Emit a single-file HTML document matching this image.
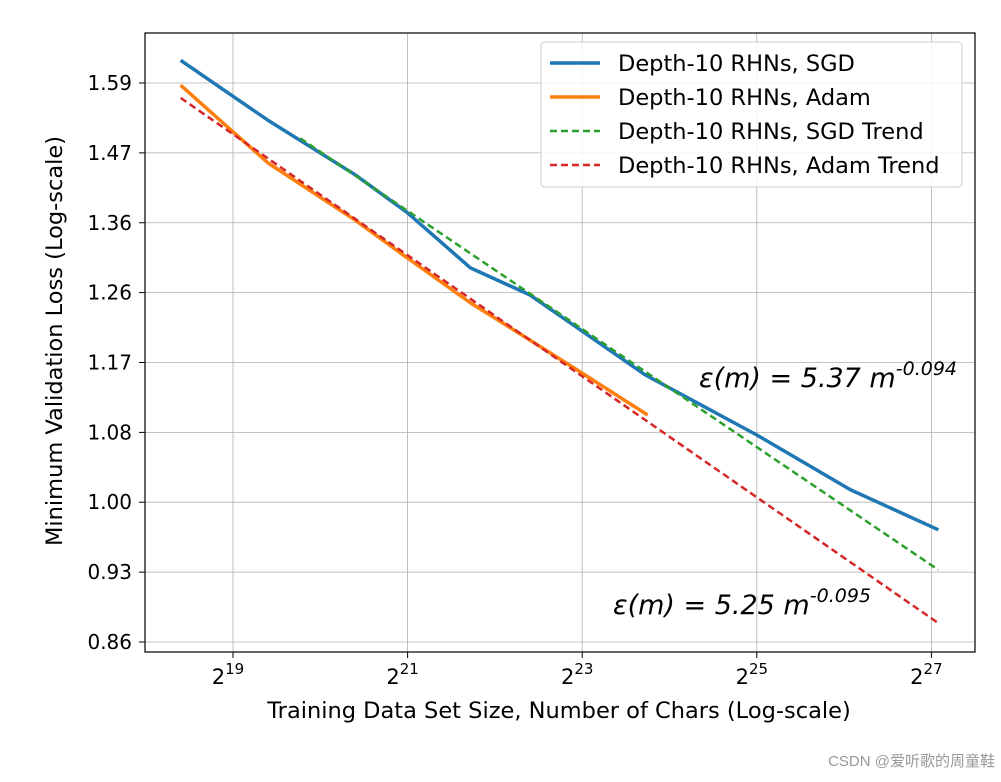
<!DOCTYPE html>
<html><head><meta charset="utf-8"><style>
body{margin:0;background:#fff;}
svg text{font-family:"DejaVu Sans","Liberation Sans",sans-serif;}
</style></head><body>
<svg width="1001" height="777" viewBox="0 0 1001 777" xmlns="http://www.w3.org/2000/svg" id="chart">
<rect x="0" y="0" width="1001" height="777" fill="#fff"/>
<g id="grid"></g>
<g id="series"></g>
<rect x="145" y="33" width="830" height="619" fill="none" stroke="#000" stroke-width="1.2"/>
<g id="axes"></g>
<text x="828" y="387" font-size="27" font-style="italic" text-anchor="middle">ε(m) = 5.37 m<tspan dy="-12" font-size="19">-0.094</tspan></text>
<text x="742" y="614" font-size="27" font-style="italic" text-anchor="middle">ε(m) = 5.25 m<tspan dy="-12" font-size="19">-0.095</tspan></text>
<text x="559" y="718" font-size="22.5" text-anchor="middle">Training Data Set Size, Number of Chars (Log-scale)</text>
<text transform="translate(62,341) rotate(-90)" font-size="22.5" text-anchor="middle">Minimum Validation Loss (Log-scale)</text>
<g>
<rect x="541" y="42" width="421" height="145" rx="4" fill="#fff" fill-opacity="0.85" stroke="#ccc"/>
<line x1="550" y1="63" x2="600" y2="63" stroke="#1f77b4" stroke-width="3.5"/>
<text x="618" y="71" font-size="22.5">Depth-10 RHNs, SGD</text>
<line x1="550" y1="97" x2="600" y2="97" stroke="#ff7f0e" stroke-width="3.5"/>
<text x="618" y="105" font-size="22.5">Depth-10 RHNs, Adam</text>
<line x1="550" y1="131" x2="600" y2="131" stroke="#2ca02c" stroke-width="2.5" stroke-dasharray="7,4"/>
<text x="618" y="139" font-size="22.5">Depth-10 RHNs, SGD Trend</text>
<line x1="550" y1="165" x2="600" y2="165" stroke="#d62728" stroke-width="2.5" stroke-dasharray="7,4"/>
<text x="618" y="173" font-size="22.5">Depth-10 RHNs, Adam Trend</text>
</g>
<text x="995" y="766" font-size="15" fill="#999" text-anchor="end" style="font-family:'Liberation Sans','Noto Sans CJK SC',sans-serif">CSDN @爱听歌的周童鞋</text>
</svg>
<script>
const xTickExps=[19,21,23,25,27];
const yTickValues=[0.8600,0.9287,1.0030,1.0831,1.1697,1.2632,1.3641,1.4731,1.5909];
const yTickLabels=["0.86","0.93","1.00","1.08","1.17","1.26","1.36","1.47","1.59"];
const sgdX=[18.40,19.40,20.40,21.0,21.72,22.40,22.86,23.72,25.0,26.07,27.08];
const sgdY=[1.631,1.527,1.438,1.379,1.298,1.260,1.222,1.154,1.080,1.017,0.973];
const adamX=[18.40,19.40,20.40,21.0,21.72,22.40,22.86,23.75];
const adamY=[1.587,1.457,1.368,1.312,1.249,1.199,1.166,1.104];
const sgdTrendX=[19.77,27.08];
const sgdTrendY=[1.497,0.931];
const adamTrendX=[18.40,27.08];
const adamTrendY=[1.565,0.878];
const NS="http://www.w3.org/2000/svg";
function xs(e){return 233+(e-19)*87.3;}
function ys(v){return 642-(Math.log(v)-Math.log(0.86))*908.8;}
const grid=document.getElementById('grid'),axes=document.getElementById('axes'),ser=document.getElementById('series');
function mk(t,a,p){const e=document.createElementNS(NS,t);for(const k in a)e.setAttribute(k,a[k]);p.appendChild(e);return e;}
xTickExps.forEach(e=>{const x=xs(e);
 const g=mk('line',{x1:x,y1:33,x2:x,y2:652,stroke:'#b0b0b0','stroke-width':0.8},grid);
 
 
 mk('line',{x1:x,y1:652,x2:x,y2:658,stroke:'#000'},axes);
 const t=mk('text',{x:x-5,y:684,'font-size':21,'text-anchor':'middle'},axes);
 
 
 t.textContent='2';const s=mk('tspan',{dy:-10,'font-size':15},t);s.textContent=e;});
yTickValues.forEach((v,i)=>{const y=ys(v);
 const g=mk('line',{x1:145,y1:y,x2:975,y2:y,stroke:'#b0b0b0','stroke-width':0.8},grid);
 
 
 mk('line',{x1:139,y1:y,x2:145,y2:y,stroke:'#000'},axes);
 const t=mk('text',{x:132,y:y+7,'font-size':20,'text-anchor':'end'},axes);
 
 
 t.textContent=yTickLabels[i];});
function line(X,Y,color,w,dash,name){
 const p=mk('polyline',{points:X.map((x,i)=>xs(x)+','+ys(Y[i])).join(' '),fill:'none',stroke:color,'stroke-width':w,'stroke-linejoin':'round'},ser);
 if(dash)p.setAttribute('stroke-dasharray',dash);
 
 }
line(sgdX,sgdY,'#1f77b4',3.5,null,'sgd-line');
line(adamX,adamY,'#ff7f0e',3.5,null,'adam-line');
line(sgdTrendX,sgdTrendY,'#2ca02c',2.5,'7,4','sgd-trend-line');
line(adamTrendX,adamTrendY,'#d62728',2.5,'7,4','adam-trend-line');
</script>
</body></html>
